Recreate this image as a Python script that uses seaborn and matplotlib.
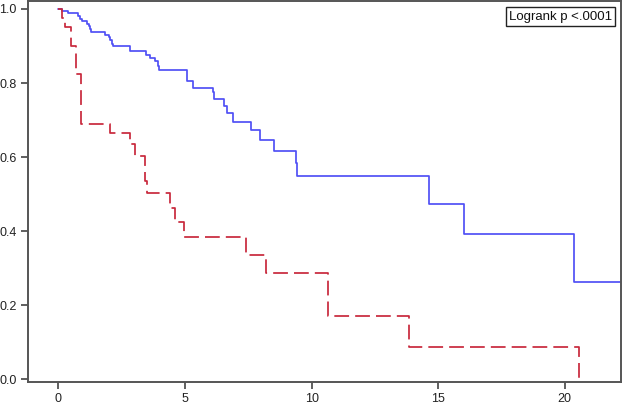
import matplotlib
matplotlib.use("Agg")
import matplotlib.pyplot as plt
import seaborn as sns
import pandas as pd

# Group A (blue, solid) Kaplan-Meier estimate
blue_time = [0.0, 0.13, 0.39, 0.79, 0.86, 0.92, 1.12, 1.19, 1.25, 1.29, 1.84, 1.98,
             2.04, 2.11, 2.17, 2.83, 3.46, 3.62, 3.82, 3.95, 3.99, 5.07, 5.33, 6.10,
             6.16, 6.55, 6.64, 6.90, 7.62, 7.95, 8.50, 9.38, 9.41, 14.64, 16.0, 20.38,
             22.3]
blue_surv = [1.0, 0.994, 0.989, 0.980, 0.974, 0.967, 0.960, 0.953, 0.946, 0.938, 0.931,
             0.923, 0.915, 0.906, 0.899, 0.886, 0.877, 0.868, 0.859, 0.845, 0.836, 0.805,
             0.786, 0.776, 0.757, 0.738, 0.718, 0.695, 0.673, 0.646, 0.617, 0.583, 0.549,
             0.472, 0.392, 0.263, 0.263]

# Group B (red, dashed) Kaplan-Meier estimate
red_time = [0.0, 0.13, 0.26, 0.50, 0.70, 0.90, 2.04, 2.83, 3.04, 3.42, 3.49, 4.39,
            4.61, 4.96, 7.41, 8.19, 10.63, 13.86, 20.56]
red_surv = [1.0, 0.976, 0.951, 0.900, 0.823, 0.690, 0.666, 0.634, 0.604, 0.535, 0.504,
            0.461, 0.425, 0.385, 0.335, 0.286, 0.171, 0.0865, 0.0]

x_ticks = [0, 5, 10, 15, 20]
y_ticks = [0.0, 0.2, 0.4, 0.6, 0.8, 1.0]
annotation = "Logrank p <.0001"

df = pd.concat([
    pd.DataFrame({"time": blue_time, "surv": blue_surv, "group": "A"}),
    pd.DataFrame({"time": red_time, "surv": red_surv, "group": "B"}),
], ignore_index=True)

sns.set_style("ticks")
plt.rcParams["font.family"] = ["Liberation Sans", "DejaVu Sans"]

fig = plt.figure(figsize=(6.22, 4.05), dpi=100)
ax = fig.add_axes([28 / 622, 23 / 405, 593 / 622, 381 / 405])

sns.lineplot(data=df, x="time", y="surv", hue="group", style="group",
             palette={"A": "#5050f5", "B": "#c8283c"},
             dashes={"A": "", "B": (8.5, 3.5)},
             estimator=None, sort=False, drawstyle="steps-post",
             linewidth=1.25, legend=False, ax=ax)

ax.set_xlim(-1.2, 22.22)
ax.set_ylim(-0.008, 1.0216)
ax.set_xticks(x_ticks)
ax.set_xticklabels([str(v) for v in x_ticks])
ax.set_yticks(y_ticks)
ax.set_yticklabels([f"{v:.1f}" for v in y_ticks])
ax.set_xlabel("")
ax.set_ylabel("")
ax.tick_params(axis="both", direction="out", length=5, width=1.2, color="#444444",
               labelsize=9, labelcolor="#222222", pad=3)
for s in ax.spines.values():
    s.set_visible(True)
    s.set_color("#555555")
    s.set_linewidth(1.4)

ax.text(0.985, 0.975, annotation, transform=ax.transAxes, ha="right", va="top",
        fontsize=9.5, color="#111111",
        bbox=dict(boxstyle="square,pad=0.25", facecolor="white", edgecolor="#222222",
                  linewidth=1.0))

fig.savefig("out.png", dpi=100)
